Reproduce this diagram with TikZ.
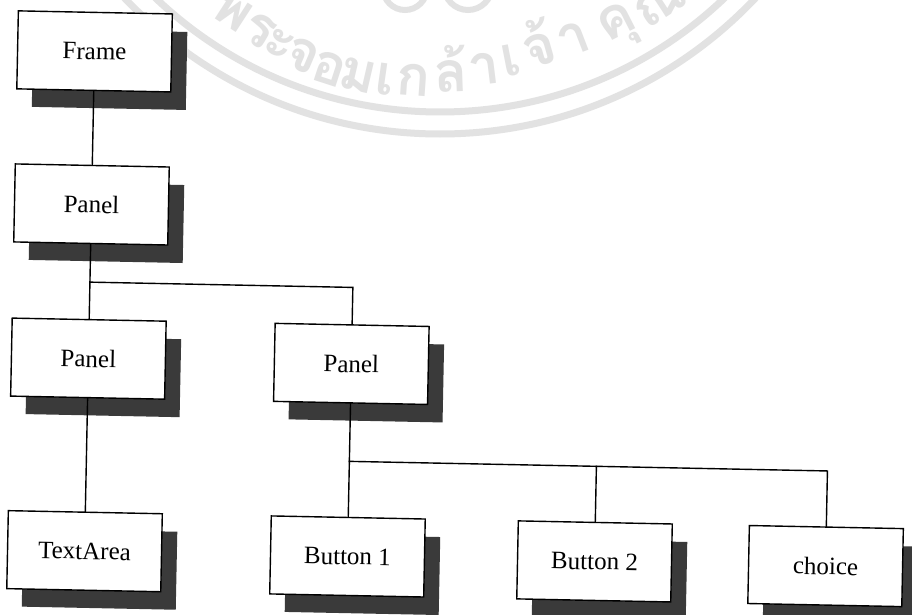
\documentclass[tikz,border=0pt]{standalone}
\usepackage{fontspec}
\setmainfont{Liberation Serif}
\newfontfamily\thaifont[Script=Thai]{Loma}
\usetikzlibrary{shadows}
\definecolor{shade}{RGB}{58,58,58}
\definecolor{seal}{RGB}{226,226,226}
\begin{document}
\begin{tikzpicture}[x=1pt,y=-1pt,
  box/.style={draw=black, line width=1.4pt, fill=white,
    minimum width=154pt, minimum height=78pt, inner sep=0pt,
    font=\fontsize{25}{30}\selectfont,
    general shadow={draw=none, fill=shade, shadow xshift=15pt, shadow yshift=-18pt}},
  link/.style={line width=1.4pt, line cap=rect},
  ring/.style={draw=seal, line width=7pt},
  glyph/.style={text=seal, inner sep=0pt, text height=30pt, text depth=0pt,
    font=\thaifont\bfseries\fontsize{56}{56}\selectfont}]

\useasboundingbox (0,0) rectangle (912,615);
\clip (0,0) rectangle (912,615);
\fill[white] (0,0) rectangle (912,615);

% faint seal printed behind the diagram
\draw[ring] (440,-300) circle (412pt);
\draw[ring] (440,-300) circle (434pt);
\draw[ring, line width=6pt] (405,-12) circle (22pt);
\draw[ring, line width=6pt] (468,-14) circle (24pt);
\foreach \g/\px/\py/\a in {พ/232/12/-33, ร/259/31/-30, ะ/280/44/-27,
    จ/302/56/-23, อ/329/69/-18, ม/358/76/-13, เ/385/80/-8, ก/413/81/-4,
    ล้/451/77/2, า/484/70/7, เ/511/61/11, จ้/540/51/16, า/574/40/21,
    คุ/616/22/27, ณ/660/4/33}
  \node[glyph, rotate=\a] at (\px,\py) {\g};

% component tree
\begin{scope}[rotate around={-1.15:(456,307)}, transform shape]
  \node[box] (frame) at (89.5,58.7)  {Frame};
  \node[box] (p1)    at (89.5,211.8) {Panel};
  \node[box] (p2)    at (89.5,366)   {Panel};
  \node[box] (p3)    at (352.5,366)  {Panel};
  \node[box] (ta)    at (89.5,558.6) {TextArea};
  \node[box] (b1)    at (352.5,558.6) {Button 1};
  \node[box] (b2)    at (599.6,558.6) {Button 2};
  \node[box] (ch)    at (830.7,558.6) {choice};

  \coordinate (j1) at (89.5,289.5);
  \coordinate (j2) at (352.5,289.5);
  \coordinate (j3) at (352.5,463.5);
  \coordinate (j4) at (830.7,463.5);
  \coordinate (j5) at (599.6,463.5);

  \draw[link] (frame.south) -- (p1.north);
  \draw[link] (p1.south) -- (p2.north);
  \draw[link] (j1) -- (j2) -- (p3.north);
  \draw[link] (p2.south) -- (ta.north);
  \draw[link] (p3.south) -- (b1.north);
  \draw[link] (j3) -- (j4) -- (ch.north);
  \draw[link] (j5) -- (b2.north);
\end{scope}
\end{tikzpicture}
\end{document}
